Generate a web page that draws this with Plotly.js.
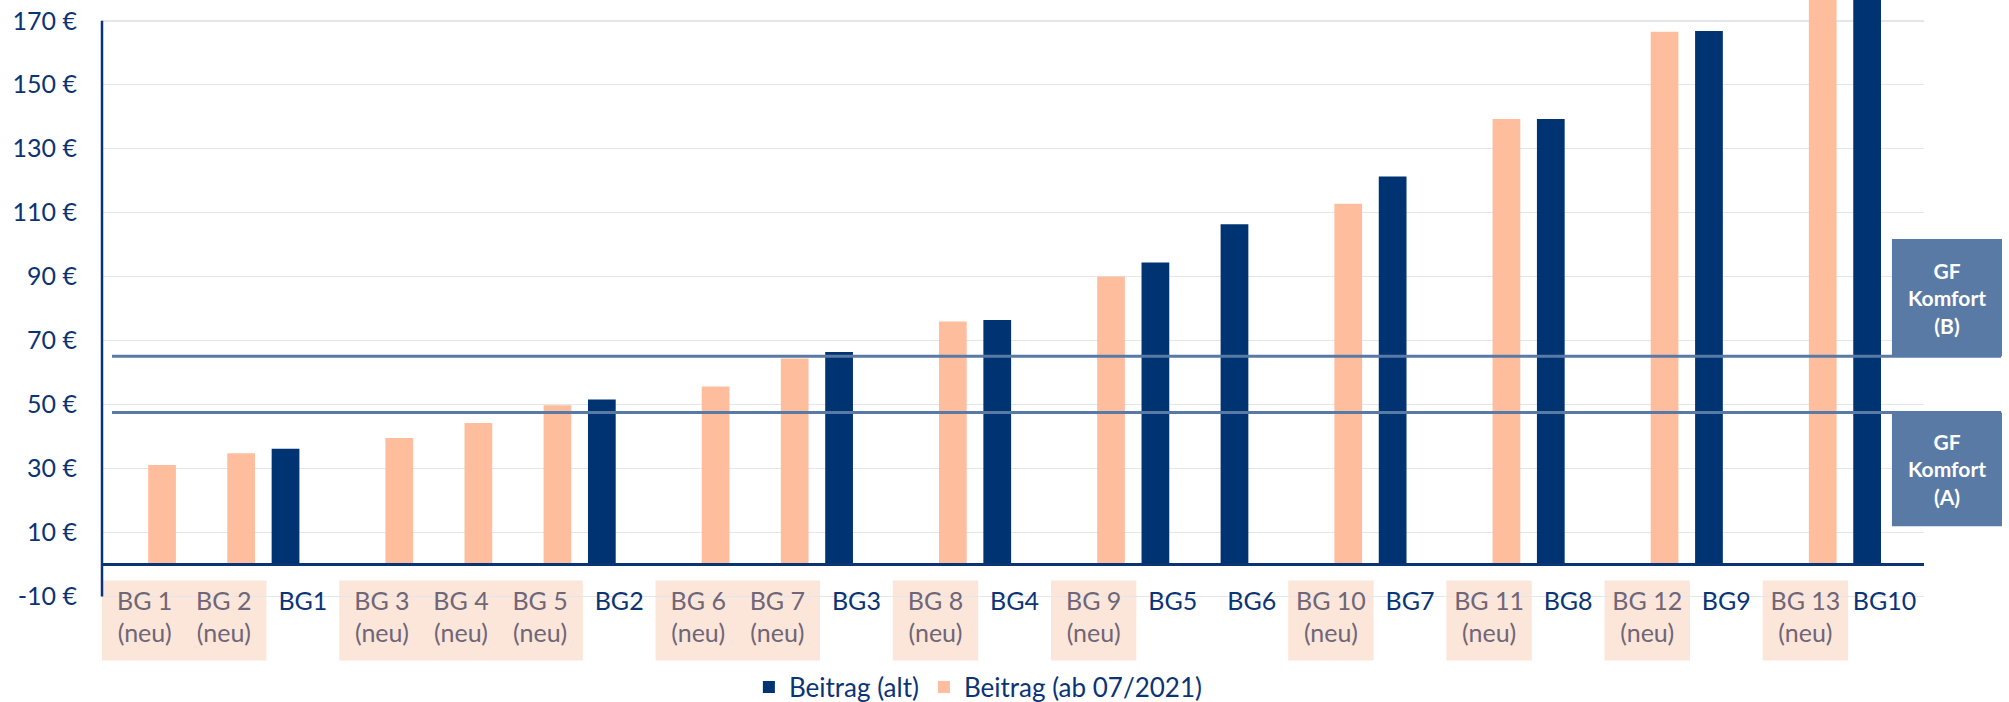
<!DOCTYPE html>
<html>
<head>
<meta charset="utf-8">
<script src="https://cdn.plot.ly/plotly-3.0.1.min.js"></script>
<style>html,body{margin:0;padding:0;background:#fff;}#chart{width:2009px;height:702px;}</style>
</head>
<body>
<div id="chart"></div>
<script>
// ---- data ----
const categories = ["BG 1 (neu)","BG 2 (neu)","BG1","BG 3 (neu)","BG 4 (neu)","BG 5 (neu)","BG2",
  "BG 6 (neu)","BG 7 (neu)","BG3","BG 8 (neu)","BG4","BG 9 (neu)","BG5","BG6","BG 10 (neu)","BG7",
  "BG 11 (neu)","BG8","BG 12 (neu)","BG9","BG 13 (neu)","BG10"];
const beitragAlt = [null,null,36.2,null,null,null,51.6,null,null,66.4,null,76.4,null,94.4,106.4,null,121.3,null,139.3,null,166.8,null,190];
const beitragNeu = [31.1,34.8,null,39.5,44.2,49.8,null,55.6,64.4,null,76.0,null,90.0,null,null,112.8,null,139.3,null,166.6,null,190,null];
const seriesNames = ["Beitrag (alt)","Beitrag (ab 07/2021)"];
const yTickVals = [-10,10,30,50,70,90,110,130,150,170];
const yTickText = yTickVals.map(v => v + " €");
const komfortValues = [47.5, 65.1];
const komfortLabels = ["GF<br>Komfort<br>(A)","GF<br>Komfort<br>(B)"];

// ---- styling ----
const NAVY = "#003371", PEACH = "#FEBE9E", STEEL = "#5A7AA6";
const LABEL_NAVY = "#0b3474", LABEL_GRAY = "#6f6677";
const FONT = "Lato, 'Open Sans', sans-serif";

const isNeu = c => c.indexOf("(neu)") >= 0;
const tickText = categories.map(c => isNeu(c)
  ? '<span style="color:' + LABEL_GRAY + '">' + c.replace(" (neu)", "<br>(neu)") + '</span>'
  : '<span style="color:' + LABEL_NAVY + '">' + c + '</span>');

const yMin = -10.5, yMax = 176.5;

const traces = [
  {type:"bar", name:seriesNames[0], x:categories, y:beitragAlt, marker:{color:NAVY}, hoverinfo:"x+y"},
  {type:"bar", name:seriesNames[1], x:categories, y:beitragNeu, marker:{color:PEACH}, hoverinfo:"x+y"}
];

const shapes = [];
// shaded label backgrounds for runs of "(neu)" categories
let i = 0;
while (i < categories.length) {
  if (isNeu(categories[i])) {
    let j = i;
    while (j + 1 < categories.length && isNeu(categories[j + 1])) j++;
    shapes.push({type:"rect", layer:"between", xref:"x", yref:"paper",
      x0:i - 0.54, x1:j + 0.54, y0:-0.1045, y1:0.0291,
      fillcolor:"rgba(251,224,210,0.85)", line:{width:0}});
    i = j + 1;
  } else i++;
}
// y axis line from -10 to 170
shapes.push({type:"line", xref:"paper", yref:"y", x0:0, x1:0, y0:yTickVals[0], y1:yTickVals[yTickVals.length-1],
  line:{color:LABEL_NAVY, width:2.5}, layer:"above"});
// Komfort reference lines
komfortValues.forEach(v => shapes.push({type:"line", xref:"paper", yref:"y",
  x0:0.0055, x1:1.0423, y0:v, y1:v, line:{color:STEEL, width:3}, layer:"above"}));
// Komfort label boxes
shapes.push({type:"rect", xref:"paper", yref:"y", x0:0.9824, x1:1.0428, y0:komfortValues[0] - 35.6, y1:komfortValues[0],
  fillcolor:STEEL, line:{width:0}, layer:"above"});
shapes.push({type:"rect", xref:"paper", yref:"y", x0:0.9824, x1:1.0428, y0:komfortValues[1], y1:komfortValues[1] + 36.7,
  fillcolor:STEEL, line:{width:0}, layer:"above"});

const annotations = [
  {xref:"paper", yref:"y", x:1.0126, y:komfortValues[0] - 17.8, text:komfortLabels[0], showarrow:false,
   font:{family:FONT, size:21, color:"#ffffff", weight:"bold"}, align:"center", xanchor:"center", yanchor:"middle"},
  {xref:"paper", yref:"y", x:1.0126, y:komfortValues[1] + 18.35, text:komfortLabels[1], showarrow:false,
   font:{family:FONT, size:21, color:"#ffffff", weight:"bold"}, align:"center", xanchor:"center", yanchor:"middle"}
];

const layout = {
  width:2009, height:702,
  margin:{l:102, r:85, t:0, b:103.6, pad:0, autoexpand:false},
  paper_bgcolor:"#ffffff", plot_bgcolor:"#ffffff",
  font:{family:FONT, size:25, color:LABEL_NAVY},
  barmode:"group", bargap:0.123, bargroupgap:0.2,
  showlegend:true,
  legend:{orientation:"h", x:0.481, xanchor:"center", y:-0.149, yanchor:"middle",
    font:{family:FONT, size:26, color:LABEL_NAVY}, bgcolor:"rgba(0,0,0,0)", traceorder:"normal"},
  xaxis:{type:"category", categoryorder:"array", categoryarray:categories,
    tickmode:"array", tickvals:categories, ticktext:tickText,
    anchor:"free", position:(0 - yMin)/(yMax - yMin), automargin:false,
    showline:true, linecolor:LABEL_NAVY, linewidth:2.5, showgrid:false, zeroline:false,
    ticks:"", ticklabelstandoff:14, tickfont:{family:FONT, size:25}, fixedrange:true},
  yaxis:{range:[yMin, yMax], tickmode:"array", tickvals:yTickVals, ticktext:yTickText, automargin:false,
    showline:false, zeroline:false, showgrid:true, gridcolor:"#e4e6eb", gridwidth:1.5,
    ticks:"", ticklabelstandoff:24, tickfont:{family:FONT, size:25, color:LABEL_NAVY}, fixedrange:true},
  shapes:shapes, annotations:annotations
};

Plotly.newPlot("chart", traces, layout, {staticPlot:true, displayModeBar:false});
</script>
</body>
</html>
